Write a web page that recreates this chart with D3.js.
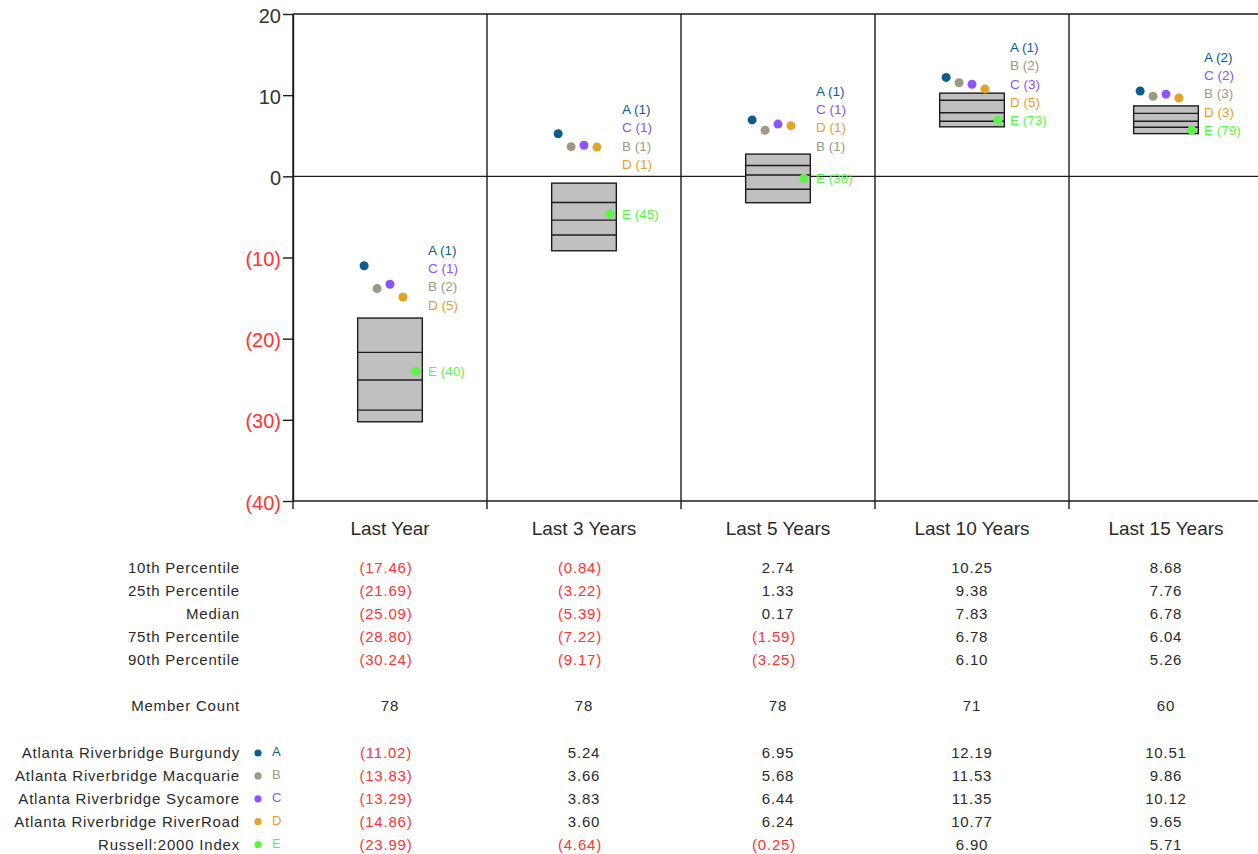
<!DOCTYPE html>
<html><head><meta charset="utf-8">
<script src="https://cdn.jsdelivr.net/npm/d3@7"></script>
<style>
html,body{margin:0;padding:0;background:#fff;}
svg{display:block;font-family:"Liberation Sans",Arial,sans-serif;}
</style></head>
<body><svg id="c" width="1258" height="854"></svg>
<script>
const categories = ["Last Year","Last 3 Years","Last 5 Years","Last 10 Years","Last 15 Years"];
const yTicks = [20,10,0,-10,-20,-30,-40];
const p10 = [-17.46,-0.84,2.74,10.25,8.68];
const p25 = [-21.69,-3.22,1.33,9.38,7.76];
const median = [-25.09,-5.39,0.17,7.83,6.78];
const p75 = [-28.80,-7.22,-1.59,6.78,6.04];
const p90 = [-30.24,-9.17,-3.25,6.10,5.26];
const memberCount = [78,78,78,71,60];
const statLabels = ["10th Percentile","25th Percentile","Median","75th Percentile","90th Percentile"];
const seriesNames = ["Atlanta Riverbridge Burgundy","Atlanta Riverbridge Macquarie","Atlanta Riverbridge Sycamore","Atlanta Riverbridge RiverRoad","Russell:2000 Index"];
const seriesLetters = ["A","B","C","D","E"];
const seriesColors = ["#0b5d8e","#9c9a80","#8a55ff","#e2a127","#5cf546"];
const valA = [-11.02,5.24,6.95,12.19,10.51];
const valB = [-13.83,3.66,5.68,11.53,9.86];
const valC = [-13.29,3.83,6.44,11.35,10.12];
const valD = [-14.86,3.60,6.24,10.77,9.65];
const valE = [-23.99,-4.64,-0.25,6.90,5.71];
const rankA = [1,1,1,1,2];
const rankB = [2,1,1,2,3];
const rankC = [1,1,1,3,2];
const rankD = [5,1,1,5,3];
const rankE = [40,45,38,73,79];

const seriesVals = [valA,valB,valC,valD,valE];
const seriesRanks = [rankA,rankB,rankC,rankD,rankE];

(function(){
const svg = d3.select("#c");
const INK = "#1c1c1c", RED = "#ff3333", TXT = "#2a2a2a";
const plotL = 293, plotT = 14, plotB = 501, colW = 194;
const y = d3.scaleLinear().domain([-40,20]).range([plotB, plotT]);
const x = d3.scaleBand().domain(categories).range([plotL, plotL + colW*categories.length]);
const bw = x.bandwidth();
const cx = c => x(c) + bw/2;
const plotR = plotL + colW*categories.length;
const fmt = v => v < 0 ? "(" + d3.format(".2f")(-v) + ")" : d3.format(".2f")(v);

// frame / grid
const g = svg.append("g");
[20,0,-40].forEach(v => g.append("line").attr("x1", plotL).attr("x2", plotR)
  .attr("y1", y(v)).attr("y2", y(v)).attr("stroke", INK).attr("stroke-width", 1.4));
d3.range(categories.length+1).forEach(i => {
  const xx = plotL + i*bw;
  g.append("line").attr("x1", xx).attr("x2", xx).attr("y1", y(20)).attr("y2", y(-40)+8)
    .attr("stroke", INK).attr("stroke-width", 1.4);
});

// y axis
const ya = svg.append("g").attr("transform", `translate(${plotL},0)`)
  .call(d3.axisLeft(y).tickValues(yTicks).tickSize(10).tickSizeOuter(0).tickPadding(2)
    .tickFormat(v => v < 0 ? `(${-v})` : v));
ya.select(".domain").attr("stroke", INK).attr("stroke-width", 1.4);
ya.selectAll(".tick line").attr("stroke", INK).attr("stroke-width", 1.4);
ya.selectAll(".tick text").attr("font-size", 20).attr("font-family", "Liberation Sans, Arial, sans-serif")
  .attr("fill", d => d < 0 ? RED : "#333").attr("dy", "0.4em");

// category labels
svg.append("g").selectAll("text").data(categories).join("text")
  .attr("x", d => cx(d)).attr("y", 535).attr("text-anchor", "middle")
  .attr("font-size", 19).attr("fill", TXT).text(d => d);

// boxes
const boxW = bw/3;
categories.forEach((c, i) => {
  const bg = svg.append("g");
  bg.append("rect").attr("x", cx(c)-boxW/2).attr("width", boxW)
    .attr("y", y(p10[i])).attr("height", y(p90[i]) - y(p10[i]))
    .attr("fill", "#c0c0c0").attr("stroke", INK).attr("stroke-width", 1.4);
  [p25[i], median[i], p75[i]].forEach(v => bg.append("line")
    .attr("x1", cx(c)-boxW/2).attr("x2", cx(c)+boxW/2).attr("y1", y(v)).attr("y2", y(v))
    .attr("stroke", INK).attr("stroke-width", 1.4));
});

// dots & labels
const dotStep = bw/15;
const lblX = 38, spacing = 18.3, lift = 6.5;
categories.forEach((c, i) => {
  const gg = svg.append("g");
  seriesVals.forEach((vals, s) => {
    gg.append("circle").attr("cx", cx(c) + (s-2)*dotStep).attr("cy", y(vals[i])).attr("r", 4.5)
      .attr("fill", seriesColors[s]);
  });
  const eY = y(valE[i]);
  gg.append("text").attr("x", cx(c)+lblX).attr("y", eY).attr("dy", "0.36em")
    .attr("font-size", 13.5).attr("fill", seriesColors[4]).text(`E (${rankE[i]})`);
  const items = [0,1,2,3].map(s => ({s, v: seriesVals[s][i]})).sort((a,b) => b.v - a.v);
  const meanY = d3.mean(items, d => y(d.v)) - lift;
  let pos = items.map((d,k) => meanY + (k - 1.5)*spacing);
  const over = pos[3] - (eY - spacing);
  if (over > 0) pos = pos.map(p => p - over);
  items.forEach((d,k) => gg.append("text").attr("x", cx(c)+lblX).attr("y", pos[k]).attr("dy", "0.36em")
    .attr("font-size", 13.5).attr("fill", seriesColors[d.s])
    .text(`${seriesLetters[d.s]} (${seriesRanks[d.s][i]})`));
});

// table
const tbl = svg.append("g").attr("font-size", 15).attr("letter-spacing", 0.8);
const labelX = 240;
const statRows = [p10,p25,median,p75,p90];
const rowY0 = 572.5, rowStep = 23.1;
statRows.forEach((arr, r) => {
  const yy = rowY0 + r*rowStep;
  tbl.append("text").attr("x", labelX).attr("y", yy).attr("text-anchor", "end").attr("fill", TXT).text(statLabels[r]);
  categories.forEach((c, i) => tbl.append("text").attr("x", cx(c) - (arr[i] < 0 ? 4 : 0)).attr("y", yy)
    .attr("text-anchor", "middle").attr("fill", arr[i] < 0 ? RED : TXT).text(fmt(arr[i])));
});
const mcY = 710.5;
tbl.append("text").attr("x", labelX).attr("y", mcY).attr("text-anchor", "end").attr("fill", TXT).text("Member Count");
categories.forEach((c, i) => tbl.append("text").attr("x", cx(c)).attr("y", mcY)
  .attr("text-anchor", "middle").attr("fill", TXT).text(memberCount[i]));

const sY0 = 758, sStep = 22.9;
seriesNames.forEach((name, s) => {
  const yy = sY0 + s*sStep;
  tbl.append("text").attr("x", labelX).attr("y", yy).attr("text-anchor", "end").attr("fill", TXT).text(name);
  svg.append("circle").attr("cx", 258).attr("cy", yy - 5).attr("r", 3.6).attr("fill", seriesColors[s]);
  svg.append("text").attr("x", 272).attr("y", yy - 2).attr("font-size", 13).attr("fill", seriesColors[s])
    .attr("font-family", "Liberation Sans, Arial, sans-serif").text(seriesLetters[s]);
  categories.forEach((c, i) => {
    const v = seriesVals[s][i];
    tbl.append("text").attr("x", cx(c) - (v < 0 ? 4 : 0)).attr("y", yy)
      .attr("text-anchor", "middle").attr("fill", v < 0 ? RED : TXT).text(fmt(v));
  });
});
})();
</script></body></html>
